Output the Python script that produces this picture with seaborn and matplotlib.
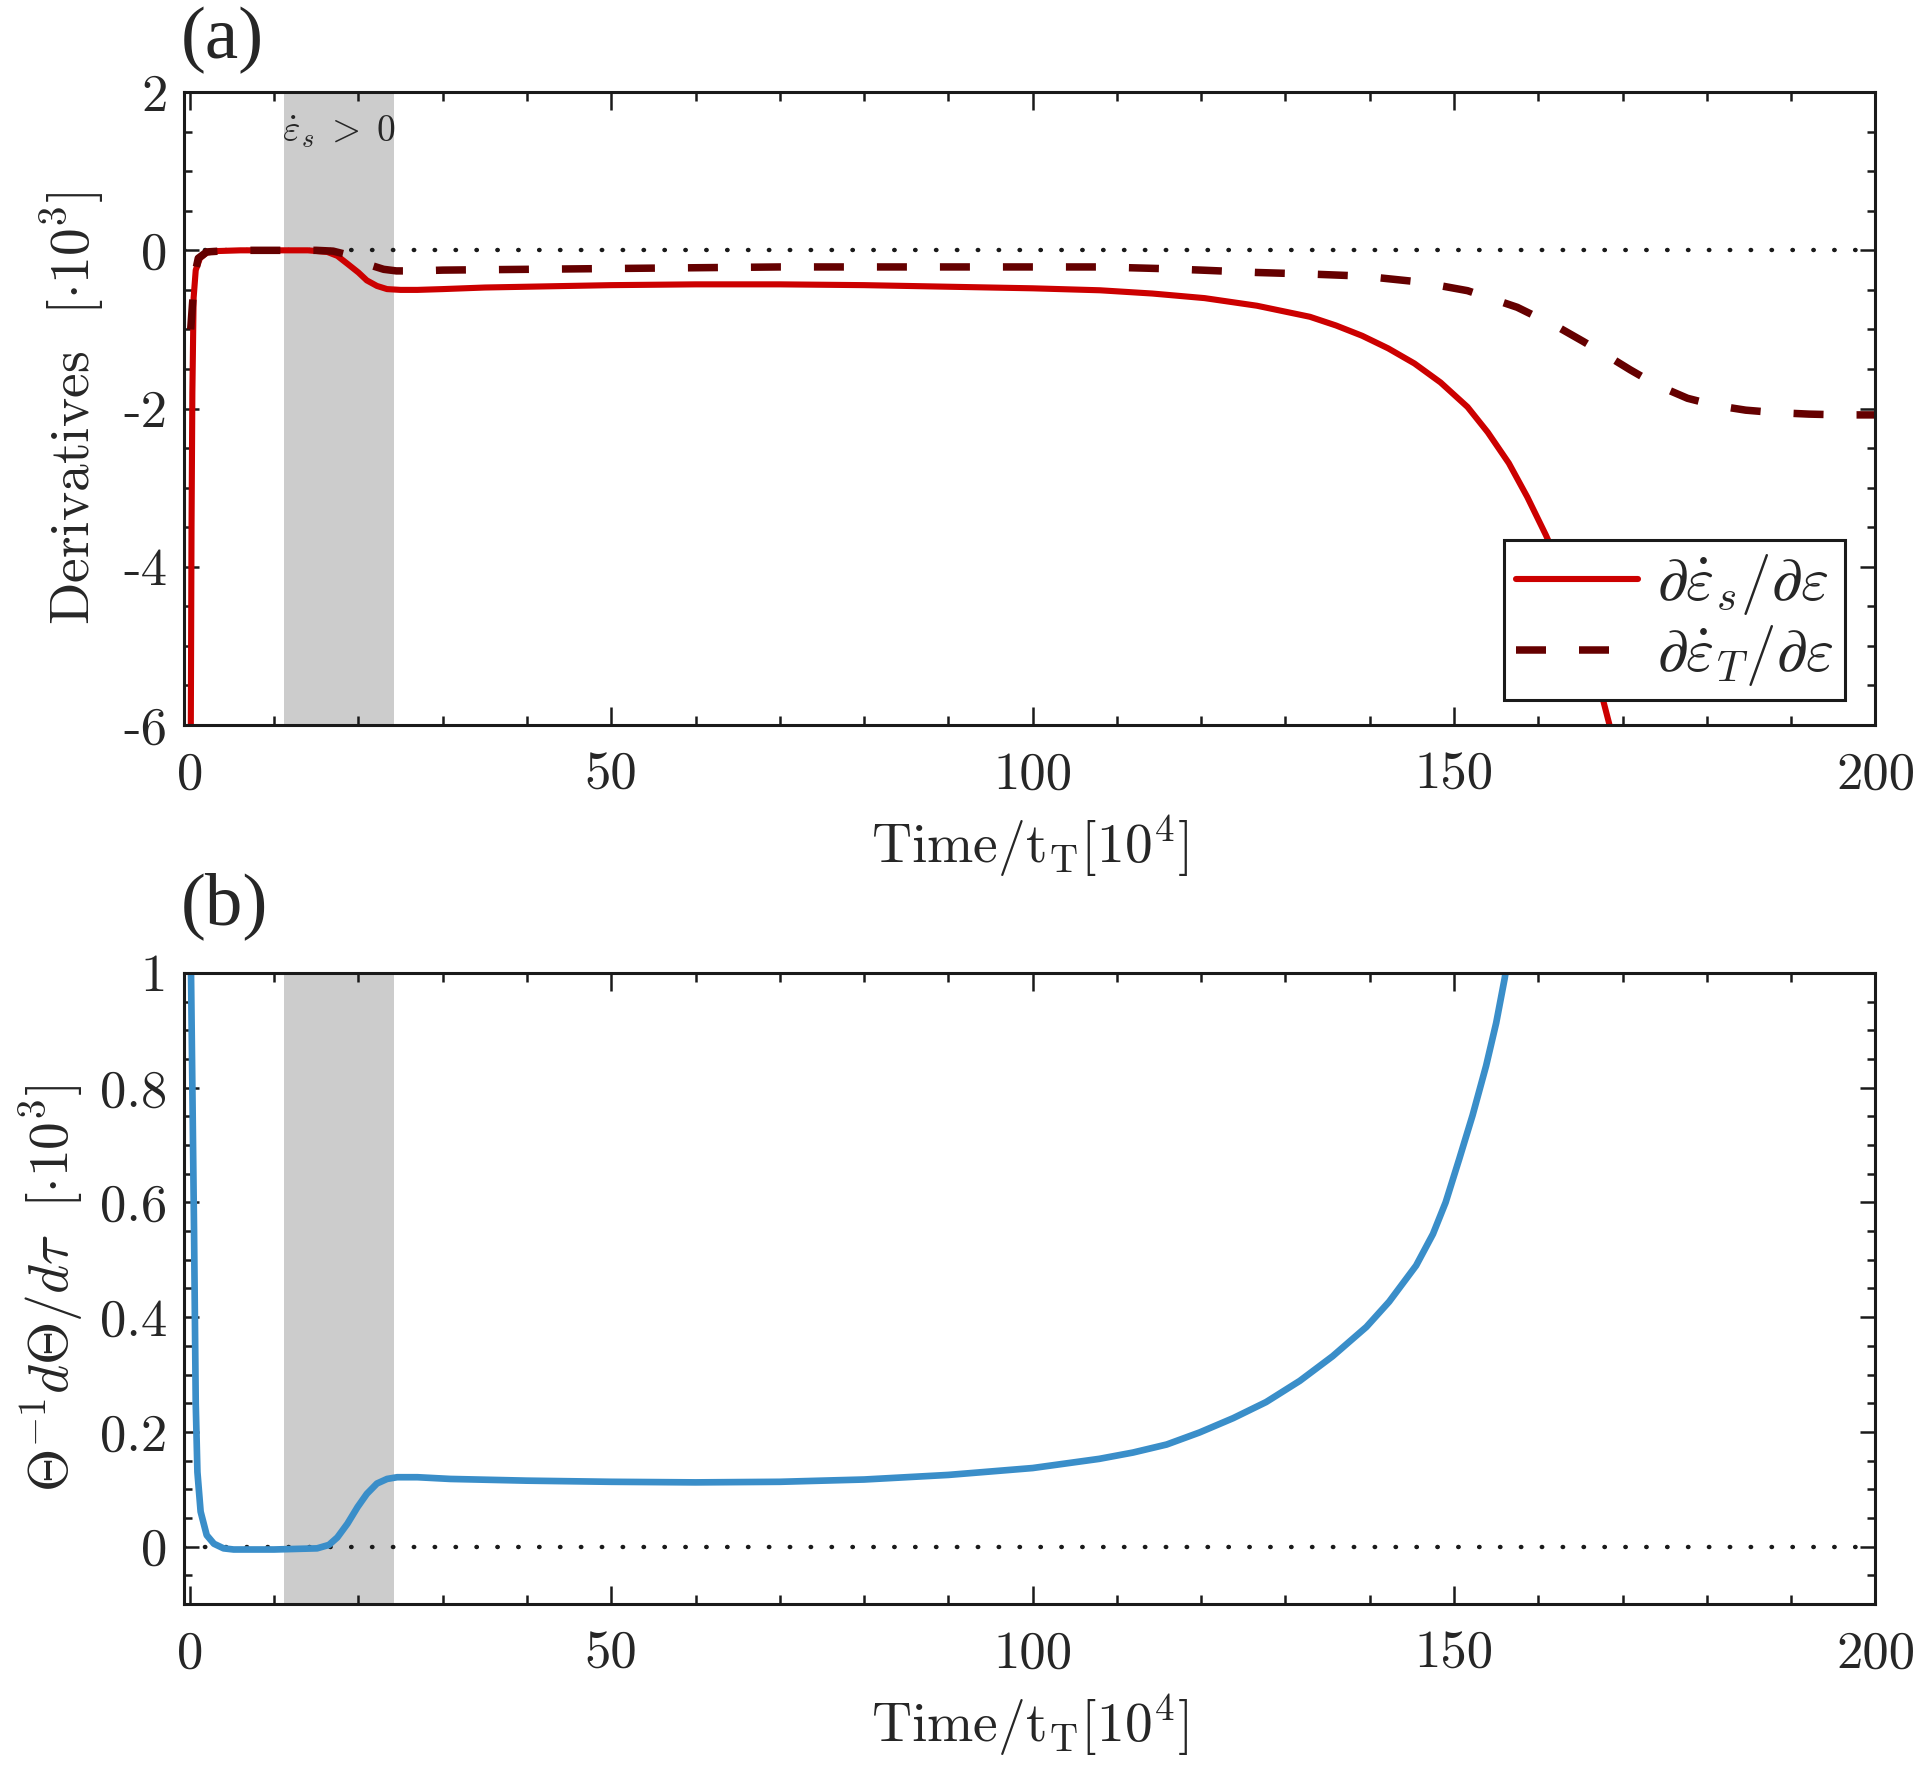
import os
import numpy as np
import matplotlib
matplotlib.use("Agg")
import matplotlib.pyplot as plt
import matplotlib.font_manager as fm
import seaborn as sns
from matplotlib.ticker import MultipleLocator

sns.set_theme(style="ticks")

# Computer Modern roman shipped with matplotlib
cm_path = os.path.join(matplotlib.get_data_path(), 'fonts', 'ttf', 'cmr10.ttf')
fm.fontManager.addfont(cm_path)
cm_name = fm.FontProperties(fname=cm_path).get_name()

plt.rcParams['font.family'] = [cm_name, 'DejaVu Serif']
plt.rcParams['mathtext.fontset'] = 'cm'
plt.rcParams['axes.unicode_minus'] = False

# panel (a): derivatives of the strain rates
t_s = [0.1, 0.2, 0.3, 0.45, 0.7, 1.2, 2, 3, 6, 10, 14, 16.3, 17.5, 18.7, 20, 21, 22.2,
       23.4, 25, 27, 30, 35, 40, 50, 60, 70, 80, 90, 100, 108, 114.2, 120.4, 126.6,
       132.9, 136, 139.1, 142.2, 145.3, 148.4, 151.6, 154, 156.5, 158.7, 160.9, 163.1,
       165.3, 166.8, 168.4, 170]
d_s = [-6.5, -3.5, -1.8, -0.6, -0.25, -0.1, -0.03, -0.01, 0, 0, 0, -0.02, -0.07, -0.17,
       -0.28, -0.38, -0.45, -0.49, -0.5, -0.5, -0.49, -0.47, -0.46, -0.44, -0.43, -0.43,
       -0.44, -0.46, -0.48, -0.505, -0.546, -0.604, -0.7, -0.84, -0.95, -1.08, -1.24,
       -1.43, -1.67, -1.98, -2.3, -2.69, -3.12, -3.6, -4.13, -4.72, -5.32, -5.98, -6.7]

t_T = [0.1, 0.3, 0.6, 1, 2, 5, 10, 15, 17, 18.5, 20, 21.5, 23, 24.5, 27, 30, 40, 50, 60,
       70, 80, 90, 100, 108, 115, 120, 126.6, 133, 139.1, 145, 148, 151.6, 155, 157.5,
       159.6, 162.5, 165.3, 168, 170.9, 174, 177.7, 181, 184.6, 188, 192.1, 196, 200]
d_T = [-1.0, -0.7, -0.3, -0.1, -0.02, 0, 0, 0, -0.01, -0.05, -0.12, -0.19, -0.24, -0.26,
       -0.26, -0.25, -0.24, -0.23, -0.22, -0.21, -0.21, -0.21, -0.21, -0.21, -0.23, -0.25,
       -0.28, -0.3, -0.325, -0.39, -0.44, -0.51, -0.63, -0.72, -0.83, -0.98, -1.15, -1.32,
       -1.51, -1.7, -1.87, -1.96, -2.02, -2.05, -2.07, -2.08, -2.08]

# panel (b): Theta^-1 dTheta/dtau
t_b = [0.1, 0.3, 0.5, 0.7, 0.9, 1.28, 2, 2.86, 4, 5.2, 10, 15.1, 16.5, 17.5, 18.7, 19.9,
       21, 22.2, 23.4, 24.6, 27, 30.9, 40, 50, 60, 70, 80, 90, 100, 107.9, 111.9, 115.9,
       119.8, 123.8, 127.7, 131.7, 135.6, 139.6, 142.3, 145.5, 147.5, 149.0, 150.6, 152.2,
       153.8, 155.0, 156.0, 157]
g_b = [1.05, 0.8, 0.55, 0.25, 0.13, 0.061, 0.02, 0.005, -0.003, -0.005, -0.005, -0.003,
       0.003, 0.016, 0.04, 0.069, 0.092, 0.11, 0.118, 0.121, 0.121, 0.118, 0.115, 0.113,
       0.112, 0.113, 0.117, 0.125, 0.137, 0.153, 0.164, 0.178, 0.199, 0.224, 0.252, 0.289,
       0.332, 0.383, 0.427, 0.49, 0.545, 0.6, 0.675, 0.752, 0.838, 0.913, 0.99, 1.08]

shade = (11.2, 24.2)

fig = plt.figure(figsize=(19.2, 17.71), dpi=100)
ax1 = fig.add_axes([0.0958, 0.5906, 0.881, 0.3574])
ax2 = fig.add_axes([0.0958, 0.0943, 0.881, 0.3563])

for ax in (ax1, ax2):
    ax.axvspan(*shade, color='#cccccc', lw=0, zorder=0)
    ax.axhline(0, color='k', ls=(0, (0.1, 4.6)), lw=3.2, dash_capstyle='round', zorder=1)

sns.lineplot(x=t_s, y=d_s, ax=ax1, color='#cc0000', linewidth=4.4, sort=False,
             label=r'$\partial\dot{\varepsilon}_s/\partial\varepsilon$', zorder=3)
sns.lineplot(x=t_T, y=d_T, ax=ax1, color='#650000', linewidth=5.4, linestyle=(0, (4, 4.4)),
             sort=False, label=r'$\partial\dot{\varepsilon}_T/\partial\varepsilon$', zorder=4)
sns.lineplot(x=t_b, y=g_b, ax=ax2, color='#3a8ec9', linewidth=4.8, sort=False, zorder=3)

ax1.text(17.7, 1.5, r'$\dot{\varepsilon}_s\;>\;0$', ha='center', va='center', fontsize=27)

leg = ax1.legend(loc='lower right', bbox_to_anchor=(0.982, 0.039), borderaxespad=0,
                 fontsize=44, frameon=True, fancybox=False, handlelength=2.0,
                 handletextpad=0.3, borderpad=0.2, labelspacing=0.1)
leg.get_frame().set_edgecolor('k')
leg.get_frame().set_linewidth(2.2)
leg.get_frame().set_alpha(1)

ax1.set_ylim(-6, 2)
ax2.set_ylim(-0.1, 1)
ax1.yaxis.set_major_locator(MultipleLocator(2))
ax1.yaxis.set_minor_locator(MultipleLocator(0.5))
ax2.yaxis.set_minor_locator(MultipleLocator(0.05))
ax2.set_yticks([0, 0.2, 0.4, 0.6, 0.8, 1])
ax2.set_yticklabels(['0', '0.2', '0.4', '0.6', '0.8', '1'])

ax1.set_ylabel(r'Derivatives  [$\cdot 10^3$]', fontsize=40, labelpad=12)
ax2.set_ylabel(r'$\Theta^{-1}d\Theta/d\tau\ \ [\cdot 10^3]$', fontsize=40, labelpad=10)

for ax in (ax1, ax2):
    ax.set_xlim(-0.7, 200)
    ax.xaxis.set_major_locator(MultipleLocator(50))
    ax.xaxis.set_minor_locator(MultipleLocator(10))
    ax.set_xlabel(r'Time/t$_\mathrm{T}$[10$^4$]', fontsize=40, labelpad=11)
    ax.tick_params(which='both', direction='in', top=True, right=True,
                   labelsize=38, width=1.8, color='k')
    ax.tick_params(axis='x', which='major', length=13, pad=19)
    ax.tick_params(axis='x', which='minor', length=6.5)
    ax.tick_params(axis='y', which='major', length=11, pad=12)
    ax.tick_params(axis='y', which='minor', length=6)
    for sp in ax.spines.values():
        sp.set_color('k')
        sp.set_linewidth(2.2)
        sp.set_zorder(5)

fig.text(0.094, 0.9965, '(a)', ha='left', va='top', fontsize=54, family='Liberation Serif')
fig.text(0.094, 0.5075, '(b)', ha='left', va='top', fontsize=54, family='Liberation Serif')

fig.savefig('out.png', dpi=100, facecolor='white')
